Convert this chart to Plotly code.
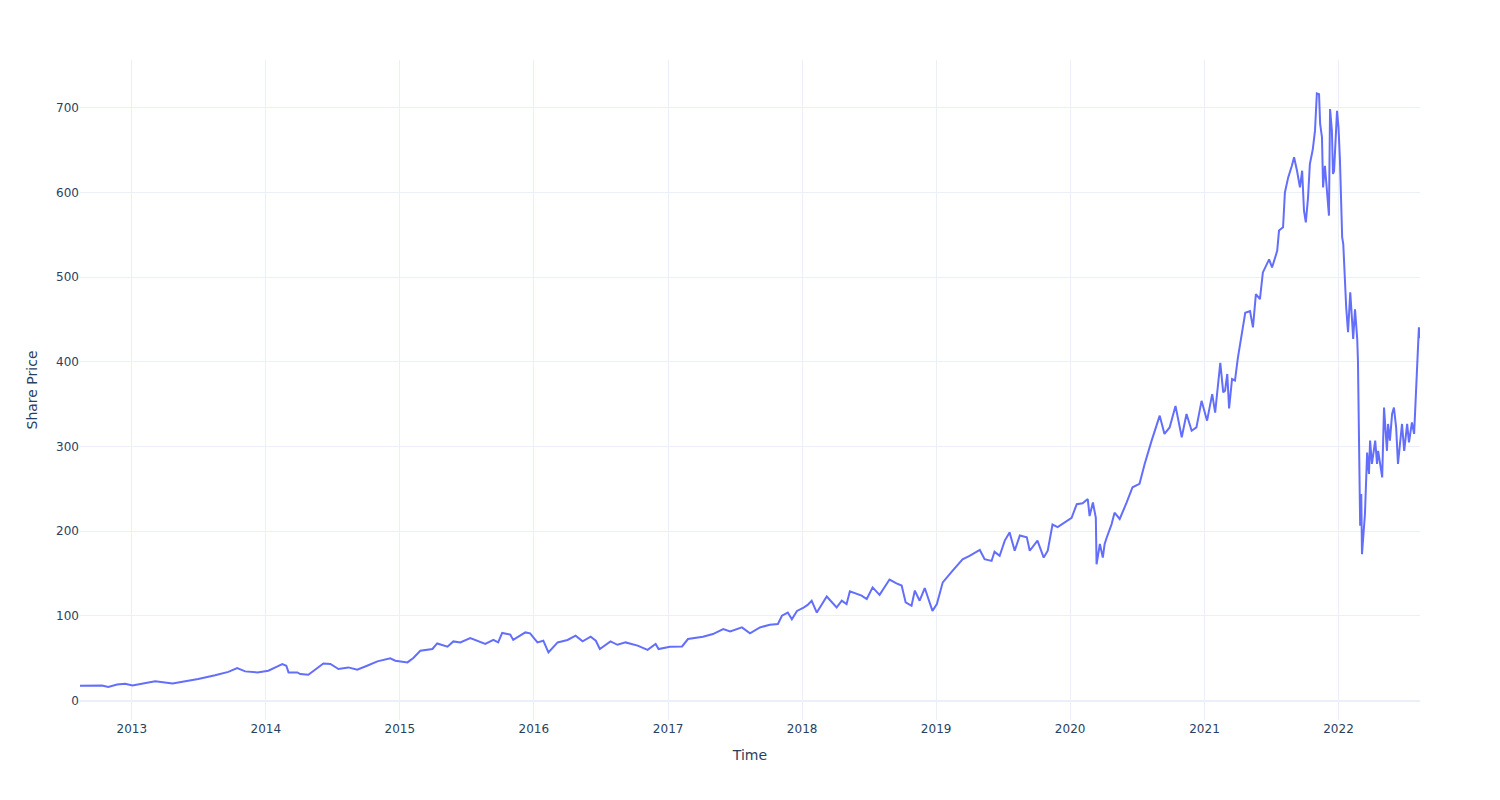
import plotly.graph_objects as go

dates = [
    "2012-08-13", "2012-09-10", "2012-10-12", "2012-10-29", "2012-11-22", "2012-12-14",
    "2013-01-03", "2013-02-08", "2013-03-06", "2013-04-22", "2013-05-27", "2013-07-01",
    "2013-08-16", "2013-09-21", "2013-10-15", "2013-11-06", "2013-12-09",
    "2014-01-08", "2014-02-02", "2014-02-15", "2014-02-26", "2014-03-04", "2014-03-28",
    "2014-04-05", "2014-04-27", "2014-05-11", "2014-06-07", "2014-06-26", "2014-07-18",
    "2014-08-14", "2014-09-07", "2014-10-04", "2014-11-01", "2014-12-06", "2014-12-20",
    "2015-01-22", "2015-02-07", "2015-02-26", "2015-03-31", "2015-04-13", "2015-05-11",
    "2015-05-27", "2015-06-15", "2015-07-12", "2015-08-22", "2015-09-13", "2015-09-26",
    "2015-10-07", "2015-10-29", "2015-11-06", "2015-12-09", "2015-12-22",
    "2016-01-11", "2016-01-27", "2016-02-10", "2016-03-06", "2016-04-02", "2016-04-24",
    "2016-05-13", "2016-06-04", "2016-06-18", "2016-06-29", "2016-07-28", "2016-08-16",
    "2016-09-07", "2016-10-10", "2016-11-06", "2016-11-28", "2016-12-06",
    "2017-01-06", "2017-02-08", "2017-02-24", "2017-04-06", "2017-05-03", "2017-05-31",
    "2017-06-19", "2017-07-21", "2017-08-12", "2017-09-08", "2017-10-05", "2017-10-27",
    "2017-11-07", "2017-11-23", "2017-12-04", "2017-12-18",
    "2018-01-05", "2018-01-16", "2018-01-27", "2018-02-10", "2018-03-09", "2018-04-05",
    "2018-04-19", "2018-05-02", "2018-05-11", "2018-06-12", "2018-06-26", "2018-07-12",
    "2018-07-31", "2018-08-27", "2018-09-15", "2018-09-29", "2018-10-10", "2018-10-26",
    "2018-11-04", "2018-11-17", "2018-12-01", "2018-12-14", "2018-12-22",
    "2019-01-03", "2019-01-19", "2019-02-15", "2019-03-14", "2019-04-02", "2019-04-30",
    "2019-05-13", "2019-06-01", "2019-06-09", "2019-06-23", "2019-07-07", "2019-07-20",
    "2019-08-03", "2019-08-17", "2019-09-05", "2019-09-13", "2019-10-04", "2019-10-21",
    "2019-11-01", "2019-11-14", "2019-11-28", "2019-12-17",
    "2020-01-05", "2020-01-19", "2020-02-04", "2020-02-18", "2020-02-23", "2020-03-03",
    "2020-03-11", "2020-03-13", "2020-03-22", "2020-03-30", "2020-04-04", "2020-04-10",
    "2020-04-23", "2020-05-01", "2020-05-15", "2020-06-03", "2020-06-19", "2020-07-08",
    "2020-07-22", "2020-08-10", "2020-08-26", "2020-09-01", "2020-09-14", "2020-09-28",
    "2020-10-14", "2020-10-31", "2020-11-13", "2020-11-27", "2020-12-10", "2020-12-24",
    "2021-01-08", "2021-01-22", "2021-01-30", "2021-02-13", "2021-02-21", "2021-02-26",
    "2021-03-04", "2021-03-09", "2021-03-17", "2021-03-25", "2021-04-02", "2021-04-13",
    "2021-04-22", "2021-05-05", "2021-05-13", "2021-05-21", "2021-06-01", "2021-06-09",
    "2021-06-26", "2021-07-04", "2021-07-18", "2021-07-23", "2021-08-03", "2021-08-08",
    "2021-08-17", "2021-08-27", "2021-09-02", "2021-09-10", "2021-09-18", "2021-09-24",
    "2021-09-29", "2021-10-04", "2021-10-10", "2021-10-15", "2021-10-23", "2021-10-29",
    "2021-11-03", "2021-11-09", "2021-11-12", "2021-11-17", "2021-11-20", "2021-11-25",
    "2021-12-01", "2021-12-06", "2021-12-09", "2021-12-14", "2021-12-17", "2021-12-20",
    "2021-12-28",
    "2022-01-01", "2022-01-05", "2022-01-08", "2022-01-11", "2022-01-14", "2022-01-16",
    "2022-01-19", "2022-01-22", "2022-01-27", "2022-02-02", "2022-02-07", "2022-02-10",
    "2022-02-15", "2022-02-21", "2022-02-23", "2022-03-01", "2022-03-04", "2022-03-06",
    "2022-03-14", "2022-03-20", "2022-03-25", "2022-03-28", "2022-04-02", "2022-04-11",
    "2022-04-16", "2022-04-19", "2022-04-30", "2022-05-05", "2022-05-13", "2022-05-16",
    "2022-05-21", "2022-05-27", "2022-06-01", "2022-06-07", "2022-06-12", "2022-06-23",
    "2022-06-29", "2022-07-07", "2022-07-12", "2022-07-20", "2022-07-26", "2022-07-31",
    "2022-08-06", "2022-08-08", "2022-08-11",
]

prices = [
    17.7, 17.5, 18.0, 16.2, 19.0, 20.0,
    18.0, 21.0, 22.8, 20.4, 23.0, 25.6,
    30.0, 34.0, 38.6, 34.6, 33.4,
    35.4, 40.5, 43.3, 41.3, 33.4, 33.4,
    31.5, 30.7, 35.4, 44.0, 43.3, 37.4,
    39.3, 36.6, 41.3, 46.4, 50.0, 47.2,
    45.2, 50.4, 59.0, 61.0, 67.6, 63.7,
    70.0, 68.8, 74.0, 67.0, 71.7, 68.8,
    80.0, 78.0, 71.7, 80.6, 79.5,
    68.8, 70.8, 57.0, 68.8, 71.7, 76.7,
    70.0, 75.5, 70.8, 61.0, 70.0, 66.0,
    68.8, 65.0, 60.0, 67.0, 61.0,
    63.7, 64.0, 72.8, 75.5, 78.7, 84.6,
    81.8, 86.5, 79.5, 86.5, 89.7, 90.5,
    100.3, 104.0, 96.0, 106.0,
    110.0, 113.0, 118.0, 104.0, 123.0, 110.0,
    118.0, 114.0, 129.0, 124.0, 120.0, 133.8,
    125.0, 143.0, 138.5, 136.0, 116.0, 112.0,
    130.0, 118.0, 133.0, 116.0, 106.0,
    114.0, 139.7, 153.5, 167.0, 171.0, 178.0,
    167.0, 165.0, 176.0, 171.0, 189.0, 198.7,
    177.0, 195.0, 193.0, 177.0, 189.0, 169.0,
    177.0, 208.0, 205.0, 210.5,
    216.0, 232.0, 233.0, 238.0, 218.0, 234.0,
    216.0, 161.0, 185.0, 169.0, 185.0, 193.0,
    208.5, 222.0, 214.5, 234.0, 252.0, 256.0,
    279.5, 307.0, 326.7, 336.5, 315.0, 322.6,
    348.0, 311.0, 338.5, 318.7, 322.6, 354.0,
    330.6, 362.0, 340.0, 399.0, 364.0, 366.0,
    385.7, 345.0, 379.8, 378.0, 405.0, 433.0,
    458.0, 460.0, 440.7, 480.0, 474.0, 505.6,
    521.0, 511.5, 531.0, 555.0, 558.8, 600.0,
    617.8, 631.6, 641.5, 625.7, 606.0, 625.7,
    578.5, 564.7, 594.0, 633.6, 651.0, 673.0,
    717.0, 716.0, 681.0, 665.0, 606.0, 631.6,
    602.0, 572.6, 698.6, 673.0, 621.8, 625.7,
    696.5,
    676.8, 637.5, 570.5, 547.0, 539.0, 519.0,
    497.8, 464.0, 435.0, 482.0, 448.6, 427.0,
    462.0, 427.0, 401.0, 206.6, 244.0, 173.0,
    220.0, 293.0, 267.6, 307.0, 279.5, 307.0,
    279.5, 295.0, 263.6, 346.0, 295.0, 326.7,
    307.0, 338.5, 346.0, 322.6, 279.5, 326.7,
    295.0, 326.7, 305.0, 328.5, 315.0, 362.0,
    425.0, 440.7, 428.0,
]

fig = go.Figure(
    go.Scatter(x=dates, y=prices, mode="lines", line=dict(color="#636efa", width=2))
)

fig.update_layout(
    template="plotly_white",
    width=1500,
    height=800,
    font=dict(family="DejaVu Sans", size=12, color="#2a3f5f"),
    margin=dict(l=80, r=80, t=60, b=80),
    xaxis=dict(title="Time"),
    yaxis=dict(title="Share Price", range=[-22.8, 756.4]),
    showlegend=False,
)

fig.write_html("out.html")
